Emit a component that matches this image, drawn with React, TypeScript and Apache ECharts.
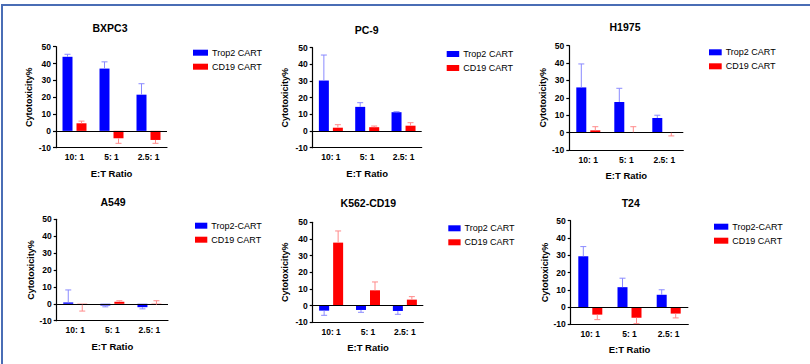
import React, { useEffect, useRef } from "react";
import * as echarts from "echarts";

// ---- data ----
const categories = ["10: 1", "5: 1", "2.5: 1"];
const panelTitles = ["BXPC3", "PC-9", "H1975", "A549", "K562-CD19", "T24"];
const trop2Labels = ["Trop2 CART", "Trop2 CART", "Trop2 CART", "Trop2-CART", "Trop2 CART", "Trop2-CART"];
const cd19Label = "CD19 CART";
const yTicks = { min: -10, max: 50, interval: 10 };
const xAxisTitle = "E:T Ratio";
const yAxisTitle = "Cytotoxicity%";

const trop2Mean = [
  [44, 37, 21.5],
  [30.3, 14.5, 11.3],
  [26, 17.6, 8.4],
  [0.8, -1, -2],
  [-3, -2.6, -3.2],
  [29.4, 11.5, 7.1],
];
const trop2ErrTip = [
  [45.5, 41, 28],
  [45.6, 17, 11.6],
  [39.5, 25.5, 10],
  [8.2, -1.8, -3],
  [-5.8, -4, -5.2],
  [35, 16.7, 10],
];
const cd19Mean = [
  [4.5, -4.4, -5.4],
  [2, 2.3, 3.2],
  [1.3, 0.2, -0.1],
  [-0.5, 1.2, -0.5],
  [37.8, 9.2, 3.6],
  [-4.4, -6.2, -3.8],
];
const cd19ErrTip = [
  [5.8, -7.4, -7.4],
  [3.8, 3, 5],
  [3.4, 3.4, -1.9],
  [-4.3, 1.8, 1.8],
  [44.8, 14.2, 5.4],
  [-7.3, -9.6, -6.3],
];

// ---- layout (styles only) ----
const layout = [
  { tx: 110, ty: 29, left: 56, top: 46.7, width: 111, height: 101, lgLeft: 193, lgTop: 47.7, lgW: 15, yGap: 23 },
  { tx: 366.7, ty: 31, left: 312.7, top: 47.7, width: 109, height: 100, lgLeft: 446.7, lgTop: 49, lgW: 12.5, yGap: 23 },
  { tx: 625, ty: 28.3, left: 569.3, top: 45.7, width: 114, height: 104.3, lgLeft: 709, lgTop: 47.3, lgW: 12.7, yGap: 22 },
  { tx: 113, ty: 203.3, left: 56.7, top: 219.3, width: 111.3, height: 101.4, lgLeft: 195, lgTop: 220.7, lgW: 12.3, yGap: 21 },
  { tx: 368.3, ty: 204, left: 312.7, top: 222.3, width: 110.6, height: 100, lgLeft: 448.3, lgTop: 223.3, lgW: 12.3, yGap: 23 },
  { tx: 630.7, ty: 204, left: 570.7, top: 220.7, width: 117.6, height: 103.6, lgLeft: 714, lgTop: 221.7, lgW: 14.3, yGap: 21.5 },
];

const FONT = "'Liberation Sans', Arial, sans-serif";
const BLUE = "#0000ff";
const RED = "#ff0000";
const BLUE_ERR = "#8a8aff";
const RED_ERR = "#ff8a8a";

function errSeries(i: number, means: number[], tips: number[], color: string, offset: number) {
  return {
    type: "custom",
    name: "err" + i + color,
    xAxisIndex: i,
    yAxisIndex: i,
    z: 5,
    silent: true,
    data: means.map((m, k) => [k, m, tips[k]]),
    renderItem: (params: any, api: any) => {
      const p0 = api.coord([api.value(0), api.value(1)]);
      const p1 = api.coord([api.value(0), api.value(2)]);
      const cx = p0[0] + offset;
      const style = { stroke: color, lineWidth: 1 };
      return {
        type: "group",
        children: [
          { type: "line", shape: { x1: cx, y1: p0[1], x2: cx, y2: p1[1] }, style },
          { type: "line", shape: { x1: cx - 3, y1: p1[1], x2: cx + 3, y2: p1[1] }, style },
        ],
      };
    },
  };
}

export default function App() {
  const ref = useRef<HTMLDivElement>(null);
  useEffect(() => {
    document.body.style.margin = "0";
    if (!ref.current) return;
    const chart = echarts.init(ref.current, null, { renderer: "svg" });
    const grids: any[] = [];
    const xAxes: any[] = [];
    const yAxes: any[] = [];
    const titles: any[] = [];
    const legends: any[] = [];
    const series: any[] = [];
    panelTitles.forEach((t, i) => {
      const L = layout[i];
      grids.push({ left: L.left, top: L.top, width: L.width, height: L.height });
      titles.push({
        text: t,
        left: L.tx,
        top: L.ty - 6.5,
        textAlign: "center",
        padding: 0,
        textStyle: { fontFamily: FONT, fontWeight: "bold", fontSize: 10.5, color: "#000" },
      });
      legends.push({
        orient: "vertical",
        left: L.lgLeft,
        top: L.lgTop,
        padding: 0,
        itemWidth: L.lgW,
        itemHeight: 6,
        itemGap: 4,
        icon: "rect",
        selectedMode: false,
        data: [trop2Labels[i], cd19Label],
        textStyle: { fontFamily: FONT, fontSize: 9, color: "#000", lineHeight: 10, padding: [0, 0, 0, -1] },
      });
      xAxes.push({
        type: "category",
        gridIndex: i,
        data: categories,
        name: xAxisTitle,
        nameLocation: "middle",
        nameGap: 20.5,
        nameTextStyle: { fontFamily: FONT, fontWeight: "bold", fontSize: 9.5, color: "#000" },
        axisLine: { onZero: false, lineStyle: { color: "#000", width: 1.2 } },
        axisTick: { alignWithLabel: true, length: 3, lineStyle: { color: "#000", width: 1.2 } },
        axisLabel: { fontFamily: FONT, fontWeight: "bold", fontSize: 8.5, color: "#000", margin: 5 },
        splitLine: { show: false },
      });
      yAxes.push({
        type: "value",
        gridIndex: i,
        min: yTicks.min,
        max: yTicks.max,
        interval: yTicks.interval,
        name: yAxisTitle,
        nameLocation: "middle",
        nameGap: L.yGap,
        nameTextStyle: { fontFamily: FONT, fontWeight: "bold", fontSize: 9, color: "#000" },
        axisLine: { show: true, lineStyle: { color: "#000", width: 1.2 } },
        axisTick: { show: true, length: 3, lineStyle: { color: "#000", width: 1.2 } },
        axisLabel: { fontFamily: FONT, fontWeight: "bold", fontSize: 8.5, color: "#000", margin: 5 },
        splitLine: { show: false },
      });
      series.push({
        type: "bar",
        name: trop2Labels[i],
        xAxisIndex: i,
        yAxisIndex: i,
        barWidth: 10,
        barGap: "40%",
        itemStyle: { color: BLUE },
        data: trop2Mean[i],
        markLine: {
          silent: true,
          symbol: "none",
          label: { show: false },
          lineStyle: { color: "#000", width: 1.2, type: "solid" },
          data: [{ yAxis: 0 }],
        },
      });
      series.push({
        type: "bar",
        name: cd19Label,
        xAxisIndex: i,
        yAxisIndex: i,
        barWidth: 10,
        barGap: "40%",
        itemStyle: { color: RED },
        data: cd19Mean[i],
      });
      series.push(errSeries(i, trop2Mean[i], trop2ErrTip[i], BLUE_ERR, -7));
      series.push(errSeries(i, cd19Mean[i], cd19ErrTip[i], RED_ERR, 7));
    });
    chart.setOption({
      animation: false,
      backgroundColor: "#ffffff",
      title: titles,
      legend: legends,
      grid: grids,
      xAxis: xAxes,
      yAxis: yAxes,
      series,
      graphic: [
        { type: "rect", shape: { x: 1, y: 4, width: 809, height: 2 }, style: { fill: "#4a6db5" }, silent: true },
        { type: "rect", shape: { x: 1, y: 4, width: 2, height: 360 }, style: { fill: "#4a6db5" }, silent: true },
      ],
    });
    return () => chart.dispose();
  }, []);
  return <div ref={ref} style={{ width: 810, height: 364 }} />;
}
